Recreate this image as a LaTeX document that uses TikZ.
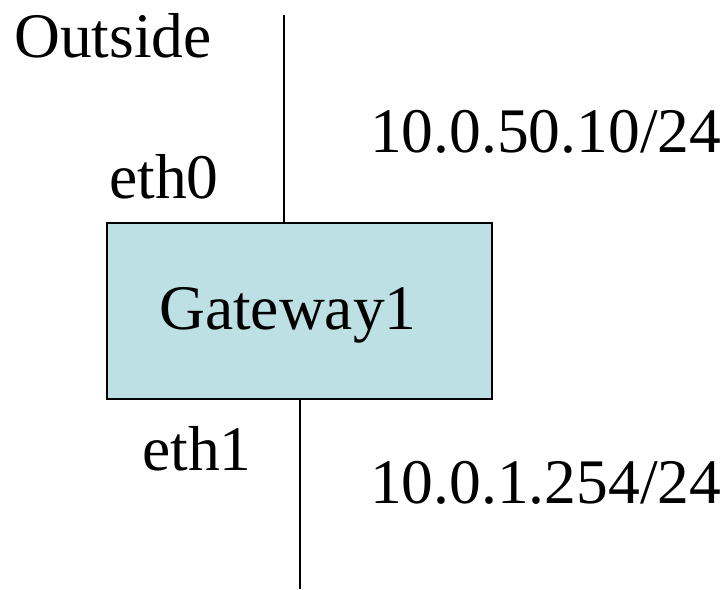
\documentclass[tikz,border=0pt]{standalone}
\usepackage{fontspec}
\setmainfont{Liberation Serif}
\begin{document}
\begin{tikzpicture}[x=1pt,y=-1pt,
  lbl/.style={inner sep=0pt,anchor=base west,font=\fontsize{63.5}{72}\selectfont},
  gw/.style={draw=black,line width=2pt,fill=gwfill,minimum width=385pt,minimum height=176pt,inner sep=0pt},
  wire/.style={line width=2.2pt}]
\definecolor{gwfill}{HTML}{BCE0E3}
\useasboundingbox (0,0) rectangle (728,589);
% gateway box
\node[gw] (gw) at (299.5,311) {};
\node[lbl] (gwname) at (159,329) {Gateway1};
% outside network segment
\coordinate (topend) at (284,15);
\coordinate (topjoin) at (284,223);
\draw[wire] (topend) -- (topjoin);
% inside network segment
\coordinate (botjoin) at (300,399);
\coordinate (botend) at (300,589);
\draw[wire] (botjoin) -- (botend);
% labels
\node[lbl] (outside) at (14,57) {Outside};
\node[lbl] (ip0) at (370,152) {10.0.50.10/24};
\node[lbl] (eth0) at (109,198) {eth0};
\node[lbl] (eth1) at (142,470) {eth1};
\node[lbl] (ip1) at (370,503) {10.0.1.254/24};
\end{tikzpicture}
\end{document}
